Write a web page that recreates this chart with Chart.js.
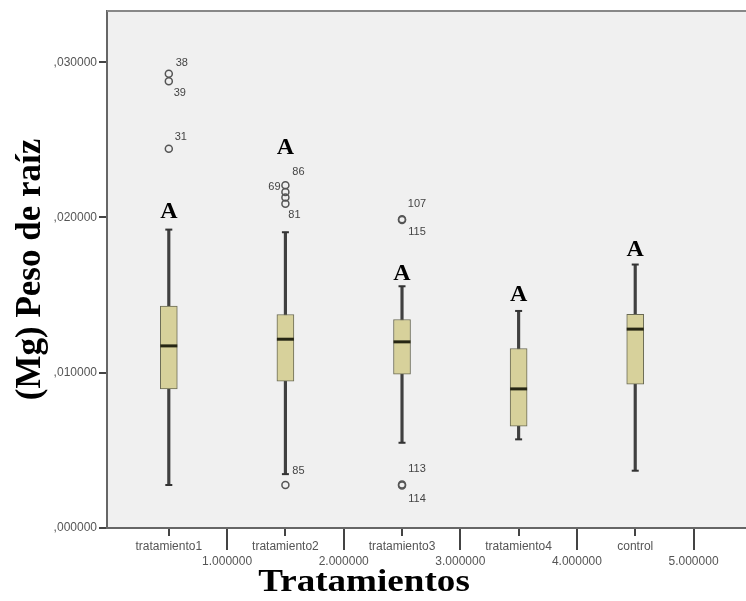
<!DOCTYPE html>
<html>
<head>
<meta charset="utf-8">
<script src="https://cdn.jsdelivr.net/npm/chart.js@4.4.1/dist/chart.umd.min.js"></script>
<style>html,body{margin:0;padding:0;background:#fff}</style>
</head>
<body>
<div style="width:746px;height:601px"><canvas id="myChart"></canvas></div>
<script>
// boxplot data
const categories = ['tratamiento1', 'tratamiento2', 'tratamiento3', 'tratamiento4', 'control'];
const catPos = [0.5, 1.5, 2.5, 3.5, 4.5];
const numTicks = [1, 2, 3, 4, 5];
const yTicks = [0, 0.01, 0.02, 0.03];

const whiskerMin = [0.00277, 0.00347, 0.00549, 0.00571, 0.00369];
const q1         = [0.00896, 0.00946, 0.00991, 0.00656, 0.00927];
const median     = [0.01173, 0.01216, 0.01199, 0.00896, 0.01281];
const q3         = [0.01429, 0.01375, 0.01343, 0.01156, 0.01377];
const whiskerMax = [0.01922, 0.01905, 0.01557, 0.01398, 0.01697];

const outlierGroup = [0, 0, 0, 1, 1, 1, 1, 1, 2, 2, 2, 2];
const outlierValue = [0.02926, 0.02878, 0.02443, 0.02207, 0.02164, 0.02128, 0.02089, 0.00277, 0.01988, 0.01984, 0.0028, 0.00274];
const outlierId    = ['38', '39', '31', '86', '69', '', '81', '85', '107', '115', '113', '114'];

const letters = ['A', 'A', 'A', 'A', 'A'];
const letterValue = [0.02035, 0.0245, 0.01639, 0.01499, 0.01793];

// label offsets in px (layout only)
const idOffset = [[13, -11], [11, 12], [12, -12], [13, -13], [-11, -5], [0, 0], [9, 11], [13, -14], [15, -15], [15, 12], [15, -16], [15, 14]];

const tickFont = { family: 'Liberation Sans', size: 12 };

const extras = {
  id: 'extras',
  beforeDraw(chart) {
    const a = chart.chartArea, ctx = chart.ctx;
    ctx.save();
    ctx.fillStyle = '#f0f0f0';
    ctx.fillRect(a.left, a.top, a.right - a.left, a.bottom - a.top);
    ctx.restore();
  },
  afterDraw(chart) {
    const a = chart.chartArea, ctx = chart.ctx;
    const xs = chart.scales.x, ys = chart.scales.y;
    ctx.save();
    ctx.strokeStyle = '#888';
    ctx.lineWidth = 2;
    ctx.beginPath();
    ctx.moveTo(a.left, a.top);
    ctx.lineTo(a.right, a.top);
    ctx.stroke();

    ctx.textAlign = 'center';
    ctx.textBaseline = 'middle';
    ctx.fillStyle = '#444';
    ctx.font = '11px "Liberation Sans"';
    outlierValue.forEach((v, i) => {
      if (!outlierId[i]) return;
      ctx.fillText(outlierId[i],
        xs.getPixelForValue(catPos[outlierGroup[i]]) + idOffset[i][0],
        ys.getPixelForValue(v) + idOffset[i][1]);
    });

    ctx.fillStyle = '#000';
    ctx.font = 'bold 24px "Liberation Serif"';
    letters.forEach((t, i) => {
      ctx.fillText(t, xs.getPixelForValue(catPos[i]), ys.getPixelForValue(letterValue[i]));
    });

    // x title, a bit wider than the font as in the picture
    ctx.font = 'bold 32px "Liberation Serif"';
    ctx.translate(364, 583);
    ctx.scale(1.16, 1);
    ctx.fillText('Tratamientos', 0, 0);
    ctx.restore();
  }
};

let myChart = document.getElementById('myChart').getContext('2d');

let boxChart = new Chart(myChart, {
  type: 'bar',
  data: {
    datasets: [{
      type: 'bar',
      data: catPos.map((x, i) => ({ x: x, y: [whiskerMin[i], whiskerMax[i]] })),
      backgroundColor: '#404040',
      barThickness: 2.5,
      grouped: false,
      order: 3
    }, {
      type: 'bar',
      data: catPos.map((x, i) => ({ x: x, y: [q1[i], q3[i]] })),
      backgroundColor: '#d7d19b',
      borderColor: '#6a6a55',
      borderWidth: 1,
      borderSkipped: false,
      barThickness: 17,
      grouped: false,
      order: 2
    }, {
      type: 'scatter',
      data: catPos.map((x, i) => ({ x: x, y: median[i] })),
      pointStyle: 'line',
      pointRadius: 8.5,
      borderWidth: 3,
      borderColor: '#262614',
      order: 1
    }, {
      type: 'scatter',
      data: catPos.map((x, i) => ({ x: x, y: whiskerMin[i] })).concat(catPos.map((x, i) => ({ x: x, y: whiskerMax[i] }))),
      pointStyle: 'line',
      pointRadius: 3.5,
      borderWidth: 2,
      borderColor: '#333',
      order: 1
    }, {
      type: 'scatter',
      data: outlierValue.map((v, i) => ({ x: catPos[outlierGroup[i]], y: v })),
      pointStyle: 'circle',
      pointRadius: 3.5,
      borderWidth: 1.5,
      borderColor: '#555',
      backgroundColor: 'rgba(0,0,0,0)',
      order: 1
    }]
  },
  options: {
    responsive: true,
    maintainAspectRatio: false,
    animation: false,
    events: [],
    layout: { autoPadding: false, padding: { top: 11, left: 0, right: 0, bottom: 0 } },
    plugins: { legend: { display: false }, tooltip: { enabled: false } },
    scales: {
      x: {
        type: 'linear', position: 'bottom', min: -0.03, max: 5.45, offset: false,
        afterBuildTicks: s => { s.ticks = numTicks.map(v => ({ value: v })); },
        afterFit: s => { s.height = 73; },
        ticks: { callback: v => v.toFixed(6), color: '#555', font: tickFont, padding: 4, maxRotation: 0, autoSkip: false },
        grid: { offset: false, drawOnChartArea: false, tickLength: 22, color: '#444', lineWidth: 2 },
        border: { color: '#666', width: 2 }
      },
      xc: {
        type: 'linear', position: { y: 0 }, min: -0.03, max: 5.45, offset: false,
        afterBuildTicks: s => { s.ticks = catPos.map(v => ({ value: v })); },
        ticks: { callback: (v, i) => categories[i], color: '#555', font: tickFont, padding: 3, maxRotation: 0, autoSkip: false },
        grid: { offset: false, drawOnChartArea: false, tickLength: 8, color: '#444', lineWidth: 2 },
        border: { display: false }
      },
      y: {
        min: 0, max: 0.0333,
        afterBuildTicks: s => { s.ticks = yTicks.map(v => ({ value: v })); },
        afterFit: s => { s.width = 107; },
        ticks: { callback: v => v.toFixed(6).replace('0.', ','), color: '#555', font: tickFont, padding: 2 },
        grid: { drawOnChartArea: false, tickLength: 8, color: '#444', lineWidth: 2 },
        border: { color: '#666', width: 2 },
        title: {
          display: true, text: '(Mg) Peso de raíz', color: '#000',
          font: { family: 'Liberation Serif', size: 35, weight: 'bold' },
          padding: { top: 10, bottom: 0 }
        }
      }
    }
  },
  plugins: [extras]
});
</script>
</body>
</html>
